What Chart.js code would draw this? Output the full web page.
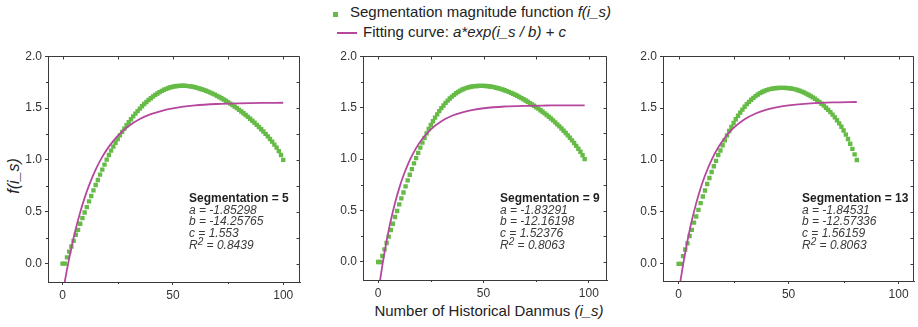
<!DOCTYPE html>
<html>
<head>
<meta charset="utf-8">
<script src="https://cdn.jsdelivr.net/npm/chart.js@4.4.1/dist/chart.umd.min.js"></script>
<style>
  body { margin: 0; width: 918px; height: 327px; overflow: hidden; background: #fff; position: relative;
         font-family: "Liberation Sans", Arial, sans-serif; color: #222; }
  canvas { position: absolute; }
  .txt { position: absolute; white-space: nowrap; }
  .legend { font-size: 15px; line-height: 18px; }
  .note { position: absolute; white-space: nowrap; font-size: 12px; }
  .note .hd { font-weight: bold; line-height: 14px; color: #1e1e1e; }
  .note .pm { font-style: italic; line-height: 11.4px; color: #3a3a3a; }
  .note sup { font-size: 10px; line-height: 0; vertical-align: 4px; }
</style>
</head>
<body>

<div class="txt" style="left:333px;top:12px;width:5px;height:5px;background:#66bb46"></div>
<div class="txt legend" style="left:350px;top:3px">Segmentation magnitude function <i>f(i_s)</i></div>
<div class="txt" style="left:337px;top:32px;width:20px;height:2px;background:#b5479f"></div>
<div class="txt legend" style="left:363px;top:23px">Fitting curve: <i>a*exp(i_s / b) + c</i></div>

<div class="txt" style="left:14px;top:176px;font-size:16px;font-style:italic;transform:translate(-50%,-50%) rotate(-90deg)">f(i_s)</div>
<div class="txt" style="left:489px;top:302px;font-size:15px;line-height:18px;transform:translateX(-50%)">Number of Historical Danmus <i>(i_s)</i></div>

<canvas id="chart1"></canvas>
<canvas id="chart2"></canvas>
<canvas id="chart3"></canvas>

<script>
// tick values
const xTicks = [0, 50, 100];
const yTicks = [0, 0.5, 1.0, 1.5, 2.0];
const xMinor = [0, 25, 50, 75, 100];
const yMinor = [0, 0.25, 0.5, 0.75, 1.0, 1.25, 1.5, 1.75, 2.0];

// segmentation magnitude f(i_s), i_s = 0, 1, 2, ...
const magnitude5 = [0, 0, 0.06, 0.116, 0.165, 0.22, 0.278, 0.326, 0.384, 0.439, 0.493, 0.545, 0.6, 0.652, 0.706, 0.758, 0.806, 0.858, 0.906, 0.955, 1.003, 1.048, 1.09,
  1.128, 1.166, 1.202, 1.237, 1.27, 1.302, 1.334, 1.363, 1.392, 1.42, 1.446, 1.471, 1.495, 1.517, 1.539, 1.559, 1.578, 1.595, 1.612, 1.627, 1.641, 1.654, 1.666, 1.676, 1.685, 1.693, 1.7, 1.705, 1.71, 1.713, 1.714, 1.715,
  1.715, 1.714, 1.712, 1.709, 1.705, 1.70, 1.695, 1.689, 1.682, 1.675, 1.667, 1.658, 1.649, 1.639, 1.629, 1.618, 1.607, 1.595, 1.583, 1.57, 1.557, 1.543, 1.529, 1.514, 1.499, 1.483, 1.467, 1.45, 1.433, 1.415, 1.397, 1.378, 1.358, 1.338, 1.317, 1.296, 1.274, 1.251, 1.227, 1.202, 1.176, 1.148, 1.118, 1.085, 1.047, 1.0];

const magnitude9 = [0, 0, 0.058, 0.123, 0.184, 0.246, 0.311, 0.372, 0.437, 0.495, 0.56, 0.618, 0.676, 0.735, 0.793, 0.848, 0.903, 0.958, 1.01, 1.061,
  1.112, 1.16, 1.206, 1.25, 1.292, 1.331, 1.368, 1.403, 1.435, 1.466, 1.495, 1.521, 1.546, 1.568, 1.589, 1.607, 1.624, 1.64, 1.653, 1.665, 1.676, 1.685, 1.692, 1.698, 1.703, 1.707, 1.709, 1.711, 1.712, 1.712,
  1.712, 1.711, 1.709, 1.706, 1.703, 1.699, 1.694, 1.689, 1.683, 1.676, 1.669, 1.661, 1.653, 1.644, 1.635, 1.625, 1.615, 1.604, 1.593, 1.581, 1.569, 1.557, 1.544, 1.531, 1.518, 1.504, 1.49, 1.475, 1.46, 1.444, 1.428, 1.411, 1.394, 1.376, 1.357, 1.338, 1.318, 1.297, 1.276, 1.254, 1.231, 1.207, 1.182, 1.156, 1.129, 1.101, 1.071, 1.038, 1.0];

const magnitude13 = [0, 0, 0.075, 0.139, 0.197, 0.268, 0.327, 0.397, 0.456, 0.52, 0.585, 0.649, 0.707, 0.769, 0.827, 0.885, 0.94, 0.992, 1.047, 1.092,
  1.142, 1.19, 1.236, 1.279, 1.319, 1.357, 1.393, 1.426, 1.457, 1.486, 1.513, 1.538, 1.56, 1.581, 1.599, 1.616, 1.631, 1.644, 1.655, 1.665, 1.673, 1.68, 1.685, 1.689, 1.692, 1.694, 1.695, 1.695,
  1.695, 1.694, 1.692, 1.689, 1.685, 1.68, 1.674, 1.667, 1.659, 1.65, 1.64, 1.629, 1.617, 1.604, 1.59, 1.575, 1.559, 1.542, 1.524, 1.504, 1.483, 1.461, 1.437, 1.411, 1.383, 1.353, 1.32, 1.284, 1.245, 1.203, 1.157, 1.108, 1.055, 1.0];

// fitted curve, read at these i_s
const fitX5 = [0, 1, 2, 3, 4, 5, 6, 8, 10, 12, 15, 18, 21, 25, 30, 35, 40, 45, 50, 60, 70, 80, 90, 100];
const fit5 = [-0.300, -0.174, -0.057, 0.052, 0.153, 0.248, 0.337, 0.496, 0.634, 0.754, 0.906, 1.029, 1.128, 1.232, 1.327, 1.394, 1.441, 1.474, 1.497, 1.525, 1.539, 1.546, 1.550, 1.551];
const fitX9 = [0, 1, 2, 3, 4, 5, 6, 8, 10, 12, 15, 18, 21, 25, 30, 35, 40, 45, 50, 60, 70, 80, 90, 98];
const fit9 = [-0.309, -0.164, -0.031, 0.092, 0.205, 0.309, 0.405, 0.574, 0.718, 0.840, 0.990, 1.107, 1.198, 1.289, 1.368, 1.421, 1.455, 1.478, 1.494, 1.511, 1.518, 1.521, 1.523, 1.523];
const fitX13 = [0, 1, 2, 3, 4, 5, 6, 8, 10, 12, 15, 18, 21, 25, 30, 35, 40, 45, 50, 60, 70, 81];
const fit13 = [-0.284, -0.143, -0.012, 0.108, 0.219, 0.322, 0.417, 0.585, 0.729, 0.851, 1.002, 1.121, 1.214, 1.309, 1.392, 1.448, 1.485, 1.510, 1.527, 1.546, 1.555, 1.559];

// annotation texts
const segLabels = ['Segmentation = 5', 'Segmentation = 9', 'Segmentation = 13'];
const paramA = ['-1.85298', '-1.83291', '-1.84531'];
const paramB = ['-14.25765', '-12.16198', '-12.57336'];
const paramC = ['1.553', '1.52376', '1.56159'];
const rSquared = ['0.8439', '0.8063', '0.8063'];

const greenColor = '#66bb46';
const fitColor = '#b5479f';
const frameColor = '#3a3a3a';

const panels = [
  { id: 'chart1', mag: magnitude5, fx: fitX5, fy: fit5, xMin: -6.6, xMax: 107.6, yMin: -0.177, left: 48, right: 302, bottom: 282, noteX: 189 },
  { id: 'chart2', mag: magnitude9, fx: fitX9, fy: fit9, xMin: -7.2, xMax: 108.6, yMin: -0.175, left: 363, right: 609, bottom: 280, noteX: 500 },
  { id: 'chart3', mag: magnitude13, fx: fitX13, fy: fit13, xMin: -7.1, xMax: 107, yMin: -0.165, left: 663, right: 916, bottom: 281, noteX: 802 }
];

// top/right frame with inward ticks, minor outward ticks on left/bottom
const frameTicks = {
  id: 'frameTicks',
  afterDraw(chart) {
    const { ctx, chartArea: a, scales: { x, y } } = chart;
    const top = Math.round(a.top) + 0.5;
    const right = Math.round(a.right) - 0.5;
    ctx.save();
    ctx.strokeStyle = frameColor;
    ctx.lineWidth = 1;
    ctx.beginPath();
    ctx.moveTo(a.left, top); ctx.lineTo(right, top); ctx.lineTo(right, a.bottom);
    xMinor.forEach(v => {
      const px = Math.round(x.getPixelForValue(v)) + 0.5;
      ctx.moveTo(px, top); ctx.lineTo(px, top + 3);
      if (!xTicks.includes(v)) { ctx.moveTo(px, a.bottom); ctx.lineTo(px, a.bottom + 2); }
    });
    yMinor.forEach(v => {
      const py = Math.round(y.getPixelForValue(v)) + 0.5;
      ctx.moveTo(right, py); ctx.lineTo(right - 3, py);
      if (!yTicks.includes(v)) { ctx.moveTo(a.left, py); ctx.lineTo(a.left - 2, py); }
    });
    ctx.stroke();
    ctx.restore();
  }
};

Chart.defaults.font.family = '"Liberation Sans", Arial, sans-serif';
Chart.defaults.font.size = 12;
Chart.defaults.color = '#333';

panels.forEach((p, k) => {
  const cv = document.getElementById(p.id);
  cv.width = p.right - p.left + 50;
  cv.height = 264;
  cv.style.left = (p.left - 48) + 'px';
  cv.style.top = '46px';

  new Chart(cv, {
    type: 'scatter',
    data: {
      datasets: [{
        label: 'Fitting curve',
        data: p.fy.map((v, i) => ({ x: p.fx[i], y: v })),
        showLine: true,
        pointRadius: 0,
        borderColor: fitColor,
        borderWidth: 1.8,
        cubicInterpolationMode: 'monotone',
        order: 0
      }, {
        label: 'Segmentation magnitude function',
        data: p.mag.map((v, i) => ({ x: i, y: v })),
        showLine: false,
        pointStyle: 'rect',
        pointRadius: 3.1,
        pointBorderWidth: 0,
        backgroundColor: greenColor,
        borderColor: greenColor,
        order: 1
      }]
    },
    options: {
      responsive: false,
      animation: false,
      layout: { padding: { top: 10, right: 2, left: 0, bottom: 0 } },
      plugins: { legend: { display: false }, tooltip: { enabled: false } },
      scales: {
        x: {
          type: 'linear', min: p.xMin, max: p.xMax,
          afterBuildTicks: s => { s.ticks = xTicks.map(v => ({ value: v })); },
          afterFit: s => { s.height = 310 - p.bottom; },
          ticks: { padding: 3, callback: v => v },
          grid: { drawOnChartArea: false, drawTicks: true, tickLength: 3, color: frameColor },
          border: { color: frameColor, width: 1 }
        },
        y: {
          type: 'linear', min: p.yMin, max: 2.0,
          afterBuildTicks: s => { s.ticks = yTicks.map(v => ({ value: v })); },
          afterFit: s => { s.width = 48; },
          ticks: { padding: 3, callback: v => Number(v).toFixed(1) },
          grid: { drawOnChartArea: false, drawTicks: true, tickLength: 3, color: frameColor },
          border: { color: frameColor, width: 1 }
        }
      }
    },
    plugins: [frameTicks]
  });

  const note = document.createElement('div');
  note.className = 'note';
  note.style.left = p.noteX + 'px';
  note.style.top = '191px';
  note.innerHTML = '<div class="hd">' + segLabels[k] + '</div>' +
    '<div class="pm">a = ' + paramA[k] + '</div>' +
    '<div class="pm">b = ' + paramB[k] + '</div>' +
    '<div class="pm">c = ' + paramC[k] + '</div>' +
    '<div class="pm" style="margin-top:1px">R<sup>2</sup> = ' + rSquared[k] + '</div>';
  document.body.appendChild(note);
});
</script>
</body>
</html>
